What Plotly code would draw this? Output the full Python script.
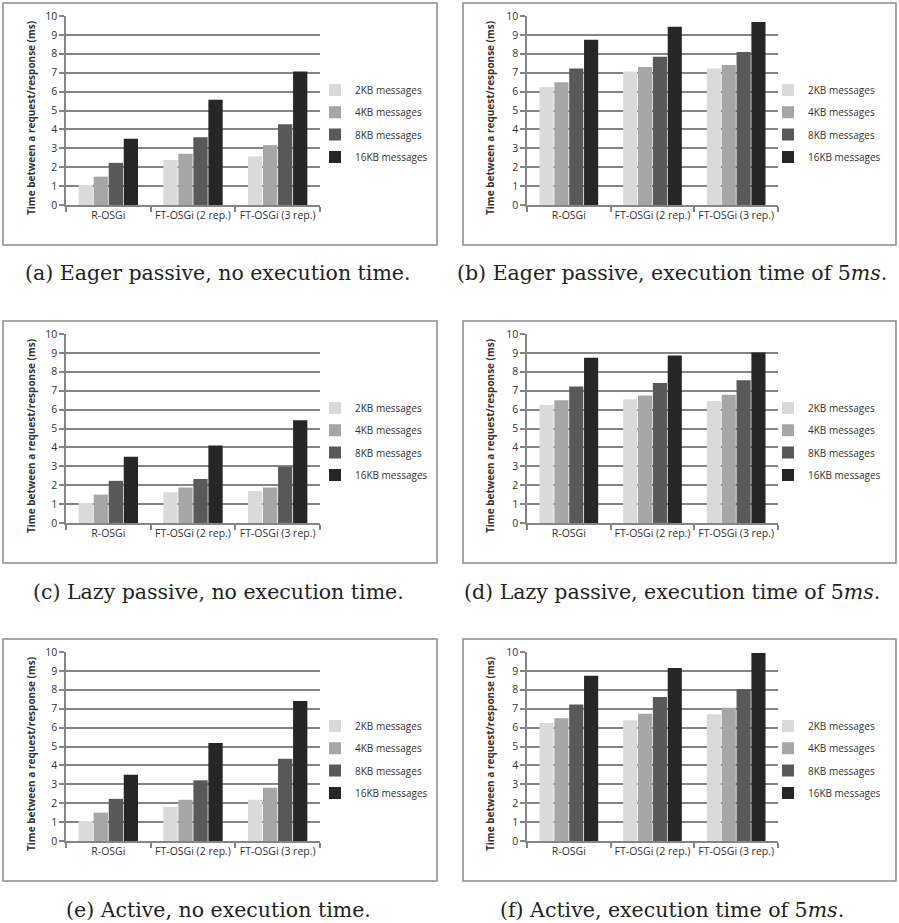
import plotly.graph_objects as go

W, H = 899, 923

categories = ["R-OSGi", "FT-OSGi (2 rep.)", "FT-OSGi (3 rep.)"]
series_names = ["2KB messages", "4KB messages", "8KB messages", "16KB messages"]
y_ticks = [0, 1, 2, 3, 4, 5, 6, 7, 8, 9, 10]
y_title = "Time between a request/response (ms)"

# (a) Eager passive, no execution time
a_2kb = [1.06, 2.38, 2.57]
a_4kb = [1.50, 2.71, 3.17]
a_8kb = [2.23, 3.59, 4.27]
a_16kb = [3.51, 5.57, 7.07]
# (b) Eager passive, execution time of 5ms
b_2kb = [6.24, 7.07, 7.22]
b_4kb = [6.49, 7.30, 7.41]
b_8kb = [7.22, 7.85, 8.10]
b_16kb = [8.74, 9.43, 9.68]
# (c) Lazy passive, no execution time
c_2kb = [1.06, 1.63, 1.69]
c_4kb = [1.50, 1.88, 1.88]
c_8kb = [2.23, 2.33, 2.98]
c_16kb = [3.51, 4.10, 5.43]
# (d) Lazy passive, execution time of 5ms
d_2kb = [6.24, 6.55, 6.45]
d_4kb = [6.49, 6.75, 6.78]
d_8kb = [7.22, 7.41, 7.55]
d_16kb = [8.74, 8.86, 9.02]
# (e) Active, no execution time
e_2kb = [1.06, 1.81, 2.18]
e_4kb = [1.50, 2.18, 2.82]
e_8kb = [2.23, 3.21, 4.35]
e_16kb = [3.51, 5.19, 7.41]
# (f) Active, execution time of 5ms
f_2kb = [6.24, 6.39, 6.70]
f_4kb = [6.49, 6.73, 7.05]
f_8kb = [7.22, 7.62, 8.03]
f_16kb = [8.74, 9.15, 9.95]

captions = [
    "(a) Eager passive, no execution time.",
    "(b) Eager passive, execution time of 5<i>ms</i>.",
    "(c) Lazy passive, no execution time.",
    "(d) Lazy passive, execution time of 5<i>ms</i>.",
    "(e) Active, no execution time.",
    "(f) Active, execution time of 5<i>ms</i>.",
]

panels = [
    [a_2kb, a_4kb, a_8kb, a_16kb],
    [b_2kb, b_4kb, b_8kb, b_16kb],
    [c_2kb, c_4kb, c_8kb, c_16kb],
    [d_2kb, d_4kb, d_8kb, d_16kb],
    [e_2kb, e_4kb, e_8kb, e_16kb],
    [f_2kb, f_4kb, f_8kb, f_16kb],
]

colors = ["#dadada", "#a6a6a6", "#595959", "#262626"]

# layout geometry in pixels
plot_left = [66, 527]
plot_right = [320, 778]
box_left = [3, 463]
box_right = [437, 896]
legend_x = [315, 768]
ytitle_x = [31, 490]
caption_x = [218, 672]
row_y10 = [16, 334, 652]
row_y0 = [205, 523, 841]
box_top = [3, 321, 639]
box_bottom = [245, 563, 881]
caption_y = [273, 592, 910]

GRID = "#858585"
TXT = "#333333"
FONT = "Open Sans"

fig = go.Figure()
layout = {}
annotations = []
shapes = []

for i, vals in enumerate(panels):
    r, c = divmod(i, 2)
    sfx = "" if i == 0 else str(i + 1)
    xa, ya = "x" + sfx, "y" + sfx
    leg = "legend" + sfx
    for s, name in enumerate(series_names):
        fig.add_trace(go.Bar(
            x=categories, y=vals[s], name=name,
            marker=dict(color=colors[s], line=dict(width=0)),
            xaxis=xa, yaxis=ya, legend=leg, legendgroup=f"p{i}s{s}",
            showlegend=True, hoverinfo="skip",
        ))
    layout["xaxis" + sfx] = dict(
        domain=[plot_left[c] / W, plot_right[c] / W], anchor=ya,
        showline=True, linecolor=GRID, linewidth=1.5,
        ticks="outside", tickson="boundaries", ticklen=5, tickcolor=GRID, tickwidth=1.5,
        showgrid=False, zeroline=False, tickangle=0,
        tickfont=dict(family=FONT, size=10.5, color=TXT),
        fixedrange=True,
    )
    layout["yaxis" + sfx] = dict(
        domain=[1 - row_y0[r] / H, 1 - row_y10[r] / H], anchor=xa,
        range=[0, 10], tickvals=y_ticks,
        showline=True, linecolor=GRID, linewidth=1.5,
        ticks="outside", ticklen=5, tickcolor=GRID, tickwidth=1.5,
        showgrid=True, gridcolor=GRID, gridwidth=1.5, zeroline=False,
        tickfont=dict(family=FONT, size=10.5, color=TXT),
        fixedrange=True,
    )
    layout[leg] = dict(
        x=legend_x[c] / W, xanchor="left",
        y=1 - (row_y10[r] + 107.5) / H, yanchor="middle",
        bgcolor="rgba(0,0,0,0)", borderwidth=0,
        font=dict(family=FONT, size=10, color=TXT),
        tracegroupgap=3.3, traceorder="grouped",
    )
    # panel border
    shapes.append(dict(
        type="rect", xref="paper", yref="paper",
        x0=box_left[c] / W, x1=box_right[c] / W,
        y0=1 - box_bottom[r] / H, y1=1 - box_top[r] / H,
        line=dict(color="#8c8c8c", width=1.5), fillcolor="rgba(0,0,0,0)",
        layer="below",
    ))
    # y axis title
    annotations.append(dict(
        text=y_title, textangle=-90, showarrow=False,
        xref="paper", yref="paper",
        x=ytitle_x[c] / W, y=1 - (row_y10[r] + 102) / H,
        xanchor="center", yanchor="middle",
        font=dict(family=FONT, size=10, color=TXT, weight="bold"),
    ))
    # caption
    annotations.append(dict(
        text=captions[i], showarrow=False,
        xref="paper", yref="paper",
        x=caption_x[c] / W, y=1 - caption_y[r] / H,
        xanchor="center", yanchor="middle",
        font=dict(family="DejaVu Serif", size=20.5, color="#222222"),
    ))

fig.update_layout(
    width=W, height=H,
    margin=dict(l=0, r=0, t=0, b=0, pad=0, autoexpand=False),
    paper_bgcolor="white", plot_bgcolor="white",
    barmode="group", bargap=0.29, bargroupgap=0.05,
    annotations=annotations, shapes=shapes,
    **layout,
)

fig.write_html(
    "out.html",
    config={"displayModeBar": False, "responsive": False},
    post_script="document.body.style.margin='0';document.body.style.overflow='hidden';",
)
